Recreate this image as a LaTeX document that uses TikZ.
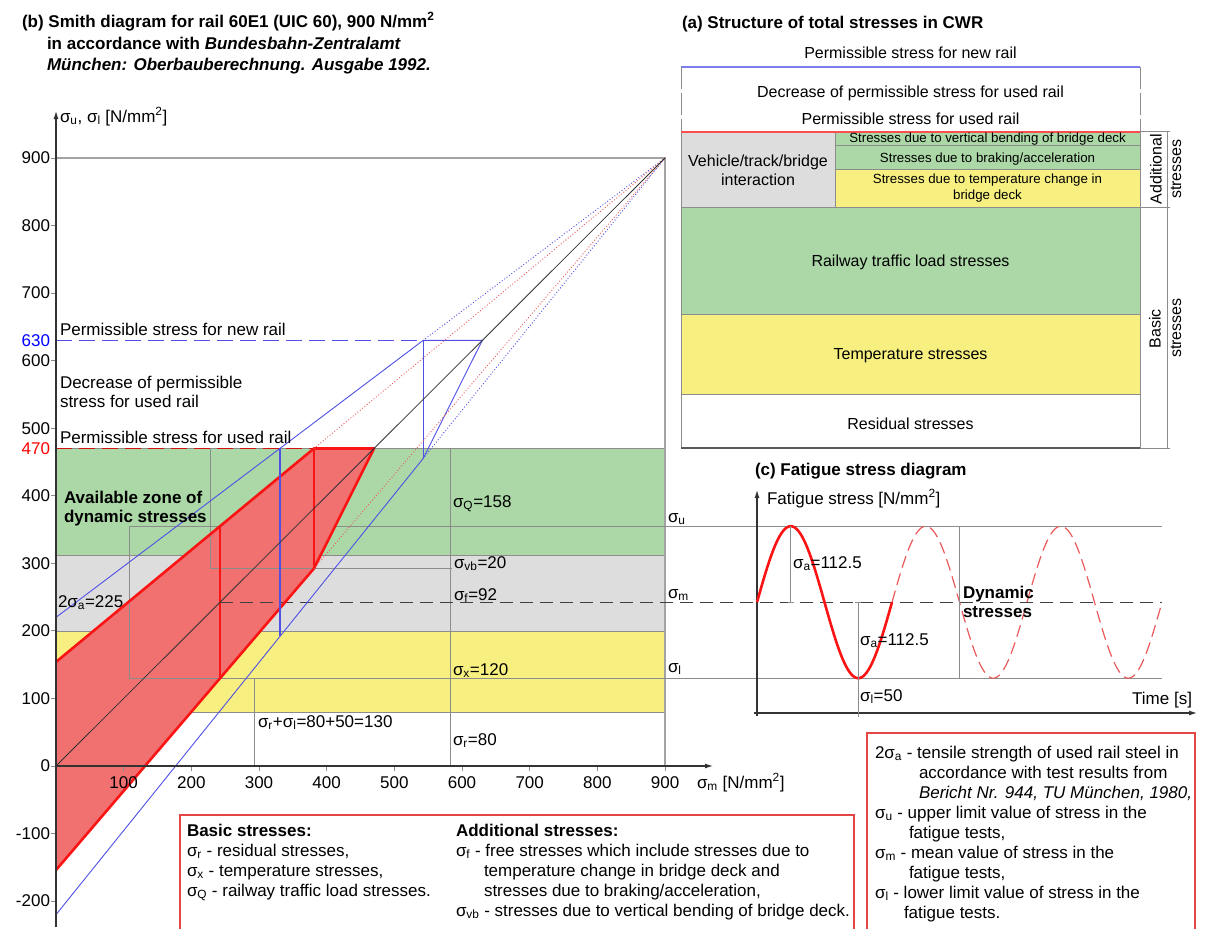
\documentclass[tikz,border=0pt]{standalone}
\usepackage{fontspec}
\setmainfont{Liberation Sans}
\usetikzlibrary{arrows.meta}
\definecolor{bgreen}{RGB}{171,216,166}
\definecolor{bgrey}{RGB}{221,221,221}
\definecolor{byellow}{RGB}{247,240,128}
\definecolor{rfill}{RGB}{241,112,112}
\definecolor{rline}{RGB}{250,20,20}
\definecolor{rdot}{RGB}{235,90,90}
\definecolor{bline}{RGB}{80,80,230}
\definecolor{gline}{RGB}{140,140,140}
\definecolor{boxred}{RGB}{228,70,70}
\newcommand{\sgm}[1]{σ\textsubscript{#1}}
\newcommand{\nmm}{[N/mm\textsuperscript{2}]}
\begin{document}
\begin{tikzpicture}[x=1pt,y=-1pt,
  every node/.style={inner sep=0pt, outer sep=0pt},
  font=\fontsize{17}{20}\selectfont,
  L/.style={anchor=base west},
  C/.style={anchor=base},
  R/.style={anchor=base east},
  bf/.style={font=\fontsize{17}{20}\selectfont\bfseries},
  md/.style={font=\fontsize{16}{20}\selectfont},
  sm/.style={font=\fontsize{13.3}{16}\selectfont},
  gl/.style={draw=gline, line width=0.7pt},
  rl/.style={draw=rline, line width=2.6pt, line join=round, line cap=round},
  bl/.style={draw=bline, line width=0.9pt},
  bdot/.style={draw=bline, line width=1.3pt, line cap=round, dash pattern=on 0pt off 3pt},
  rdots/.style={draw=rdot, line width=1.3pt, line cap=round, dash pattern=on 0pt off 3pt},
  axis/.style={draw=black!80, line width=1.1pt, -{Latex[length=8pt,width=5pt]}},
  boxr/.style={draw=boxred, line width=1.1pt},
]
\useasboundingbox (0,0) rectangle (1224,929);
\fill[white] (0,0) rectangle (1224,929);

% ---------------- (b) Smith diagram ----------------
\node[L,bf] (tb1) at (22,27) {(b) Smith diagram for rail 60E1 (UIC 60), 900 N/mm\textsuperscript{2}};
\node[L,bf] (tb2) at (47,49) {in accordance with \textit{Bundesbahn-Zentralamt}};
\node[L,bf] (tb3) at (47,70) {\textit{München: Oberbauberechnung. Ausgabe 1992.}};

\begin{scope}[shift={(56pt,-766pt)}, x=0.6767pt, y=0.6756pt]
  % bands
  \fill[bgreen] (0,312) rectangle (900,470);
  \fill[bgrey] (0,200) rectangle (900,312);
  \fill[byellow] (0,80) rectangle (900,200);
  \foreach \v in {80,200,312,470} \draw[gl] (0,\v) -- (900,\v);
  \draw[draw=gline!80, line width=1.4pt] (0,900) -- (900,900) -- (900,0);
  \draw[gl] (107.9,355) -- (1634.4,355);
  % red zone
  \fill[rfill] (0,154) -- (381.2,470) -- (470,470) -- (381.2,292.4) -- (0,-154) -- cycle;
  % bracket lines
  \draw[gl] (107.9,355) -- (107.9,130);
  \draw[gl] (107.9,130) -- (1634.4,130);
  \draw[gl] (292.6,130) -- (292.6,0);
  \draw[gl] (227.6,470) -- (227.6,292) -- (582.2,292);
  \draw[gl] (582.2,470) -- (582.2,0);
  \foreach \v in {470,312,292,200,80,0} \draw[gl] (582.2,\v) ++(-2pt,0) -- ++(4pt,0);
  \draw[black!75, line width=0.9pt, dash pattern=on 13pt off 7pt] (242.5,242.5) -- (1634.4,242.5);
  % red thick lines
  \draw[rl] (0,154) -- (381.2,470) -- (470,470) -- (381.2,292.4) -- (0,-154);
  \draw[rl] (381.2,470) -- (381.2,292.4);
  \draw[rl] (242.5,355) -- (242.5,130);
  \draw[draw=rline!85!black, line width=1.1pt, dash pattern=on 16pt off 7pt] (0,470) -- (381.2,470);
  % blue
  \draw[bl] (0,220) -- (542.6,630) -- (630,630) -- (542.6,455.2) -- (0,-220);
  \draw[draw=bline, line width=1.2pt] (542.6,630) -- (542.6,455.2);
  \draw[draw=bline, line width=2pt] (330.9,470) -- (330.9,191.8);
  \draw[draw=bline, line width=1.1pt, dash pattern=on 16pt off 7pt] (0,630) -- (542.6,630);
  % dotted converging
  \draw[bdot] (542.6,630) -- (900,900);
  \draw[bdot] (542.6,455.2) -- (900,900);
  \draw[rdots] (381.2,470) -- (900,900);
  \draw[rdots] (381.2,292.4) -- (900,900);
  % diagonal
  \draw[black!80, line width=0.8pt] (0,0) -- (900,900);
  % y ticks
  \foreach \v [count=\i] in {-200,-100,0,100,200,300,400,500,600,700,800,900} {
    \draw[gline, line width=0.8pt] (0,\v) -- ++(-5pt,0);
    \node[R] (yt\i) at ([xshift=-6pt,yshift=-5.8pt]0,\v) {\v};
  }
  \node[R, text=blue] (yt630) at ([xshift=-6pt,yshift=-5.8pt]0,630) {630};
  \node[R, text=red] (yt470) at ([xshift=-6pt,yshift=-5.8pt]0,470) {470};
  % x ticks
  \foreach \v [count=\i] in {100,200,...,900} {
    \draw[gline, line width=0.8pt] (\v,0) -- ++(0,-5pt);
    \node[C] (xt\i) at ([yshift=-22pt]\v,0) {\v};
  }
\end{scope}

\draw[axis] (56,927) -- (56,111);
\draw[axis] (56,766) -- (713,766);
\node[L] (ylab) at (60,122) {\sgm{u}, \sgm{l} \nmm};
\node[L] (xlab) at (697,788) {\sgm{m} \nmm};

\node[L] (s1) at (60,335) {Permissible stress for new rail};
\node[L] (s2) at (60,388) {Decrease of permissible};
\node[L] (s3) at (60,407) {stress for used rail};
\node[L] (s4) at (60,443) {Permissible stress for used rail};
\node[L,bf] (s5) at (64,503) {Available zone of};
\node[L,bf] (s6) at (64,522) {dynamic stresses};
\node[L] (s7) at (58,607) {2\sgm{a}=225};
\node[L] (s8) at (453,507) {\sgm{Q}=158};
\node[L] (s9) at (454,568) {\sgm{vb}=20};
\node[L] (s10) at (454,600) {\sgm{f}=92};
\node[L] (s11) at (453,675) {\sgm{x}=120};
\node[L] (s12) at (453,745) {\sgm{r}=80};
\node[L] (s13) at (258,727) {\sgm{r}+\sgm{l}=80+50=130};

% ---------------- (a) Structure ----------------
\node[L,bf] (ta) at (682,28) {(a) Structure of total stresses in CWR};
\node[C,md] (a1) at (910.5,58) {Permissible stress for new rail};
\draw[draw=bline!75, line width=2pt] (681,66.5) -- (1140,66.5);
\draw[gl, dash pattern=on 22pt off 4pt] (681,67) -- (681,131);
\draw[gl, dash pattern=on 22pt off 4pt] (1140,67) -- (1140,131);
\node[C,md] (a2) at (910.5,97) {Decrease of permissible stress for used rail};
\node[C,md] (a3) at (910.5,124) {Permissible stress for used rail};
\fill[bgrey] (681,131) rectangle (835,207);
\fill[bgreen] (835,131) rectangle (1140,169.5);
\fill[byellow] (835,169.5) rectangle (1140,207);
\fill[bgreen] (681,207) rectangle (1140,314.5);
\fill[byellow] (681,314.5) rectangle (1140,394.5);
\draw[gl] (681,131) -- (681,448);
\draw[gl] (1140,131) -- (1140,448);
\draw[gl] (835,131) -- (835,207);
\draw[gl] (835,145) -- (1140,145);
\draw[gl] (835,169.5) -- (1140,169.5);
\draw[gl] (681,207) -- (1170,207);
\draw[gl] (681,314.5) -- (1140,314.5);
\draw[gl] (681,394.5) -- (1140,394.5);
\draw[black!65, line width=1.6pt] (681,448) -- (1140,448);
\draw[draw=rline!75, line width=2pt] (681,131.5) -- (1140,131.5);
\draw[gl] (1140,131) -- (1170,131);
\draw[gl] (1140,448) -- (1170,448);
\draw[gl] (1167,131) -- (1167,448);
\node[C,md] (a4) at (758,166) {Vehicle/track/bridge};
\node[C,md] (a5) at (758,185) {interaction};
\node[C,sm] (a6) at (987.5,142.5) {Stresses due to vertical bending of bridge deck};
\node[C,sm] (a7) at (987.5,162) {Stresses due to braking/acceleration};
\node[C,sm] (a8) at (987.5,183) {Stresses due to temperature change in};
\node[C,sm] (a9) at (987.5,199) {bridge deck};
\node[C,md] (a10) at (910.5,266) {Railway traffic load stresses};
\node[C,md] (a11) at (910.5,359) {Temperature stresses};
\node[C,md] (a12) at (910.5,429) {Residual stresses};
\node[md, rotate=90] (a13) at (1156,169) {Additional};
\node[md, rotate=90] (a14) at (1176,169) {stresses};
\node[md, rotate=90] (a15) at (1155,329) {Basic};
\node[md, rotate=90] (a16) at (1176,328) {stresses};

% ---------------- (c) Fatigue ----------------
\node[L,bf] (tc) at (755,475) {(c) Fatigue stress diagram};
\draw[axis] (757,716) -- (757,490);
\draw[axis] (754,713) -- (1197,713);
\node[L] (c1) at (767,504) {Fatigue stress \nmm};
\node[R] (c2) at (1192,704) {Time [s]};
\draw[line width=2.6pt, draw=rline] plot[domain=0:135, samples=80, smooth] ({757+\x},{602.2-76*sin(\x*2.666667)});
\draw[line width=1.2pt, draw=rdot, dash pattern=on 12pt off 6pt] plot[domain=135:405, samples=160, smooth] ({757+\x},{602.2-76*sin(\x*2.666667)});
\draw[gl] (790.75,526.2) -- (790.75,602.2);
\draw[gl] (787.75,602.2) -- (793.75,602.2);
\draw[gl] (858.25,602.2) -- (858.25,717);
\draw[gl] (855.25,602.2) -- (861.25,602.2);
\draw[gl] (959,526.2) -- (959,678.2);
\draw[gl] (956,526.2) -- (962,526.2);
\draw[gl] (956,678.2) -- (962,678.2);
\node[L] (c3) at (793,568) {\sgm{a}=112.5};
\node[L] (c4) at (860,645) {\sgm{a}=112.5};
\node[L] (c5) at (860,701) {\sgm{l}=50};
\node[L,bf] (c6) at (963,598) {Dynamic};
\node[L,bf] (c7) at (963,617) {stresses};
\node[L] (c8) at (668,522) {\sgm{u}};
\node[L] (c9) at (668,598) {\sgm{m}};
\node[L] (c10) at (668,672) {\sgm{l}};

% ---------------- legend boxes ----------------
\draw[boxr] (180,815) rectangle (854,940);
\draw[boxr] (867,733) rectangle (1195,940);
\node[L,bf] (b1a) at (187,836) {Basic stresses:};
\node[L] (b1b) at (187,856) {\sgm{r} - residual stresses,};
\node[L] (b1c) at (187,876) {\sgm{x} - temperature stresses,};
\node[L] (b1d) at (187,896) {\sgm{Q} - railway traffic load stresses.};
\node[L,bf] (b1e) at (456,836) {Additional stresses:};
\node[L] (b1f) at (456,856) {\sgm{f} - free stresses which include stresses due to};
\node[L] (b1g) at (484,876) {temperature change in bridge deck and};
\node[L] (b1h) at (484,896) {stresses due to braking/acceleration,};
\node[L] (b1i) at (456,916) {\sgm{vb} - stresses due to vertical bending of bridge deck.};
\node[L] (b2a) at (875,758) {2\sgm{a} - tensile strength of used rail steel in};
\node[L] (b2b) at (919,778) {accordance with test results from};
\node[L] (b2c) at (919,798) {\textit{Bericht Nr. 944, TU München, 1980,}};
\node[L] (b2d) at (875,818) {\sgm{u} - upper limit value of stress in the};
\node[L] (b2e) at (909,838) {fatigue tests,};
\node[L] (b2f) at (875,858) {\sgm{m} - mean value of stress in the};
\node[L] (b2g) at (909,878) {fatigue tests,};
\node[L] (b2h) at (875,898) {\sgm{l} - lower limit value of stress in the};
\node[L] (b2i) at (904,918) {fatigue tests.};
\end{tikzpicture}
\end{document}
